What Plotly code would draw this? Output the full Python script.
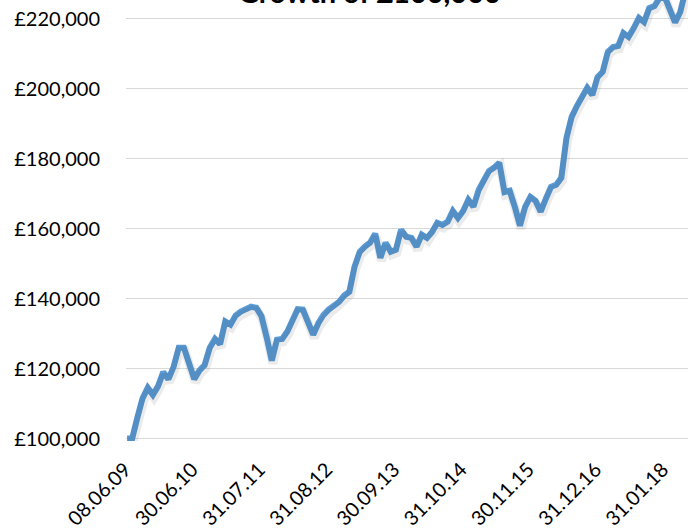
import pandas as pd
import plotly.graph_objects as go

# ---- data (in £ thousands) ----
start_label = "08.06.09"
month_ends = pd.date_range("2009-06-30", "2018-05-31", freq="ME")
dates = [start_label] + [d.strftime("%d.%m.%y") for d in month_ends]

values_k = [
    100.0, 100.0, 106.0, 111.5, 114.5, 112.5, 115.0, 119.0, 117.0, 120.5,
    126.0, 126.0, 121.5, 117.0, 119.5, 121.0, 126.0, 128.5, 127.0, 133.5,
    132.6, 135.2, 136.3, 137.0, 137.7, 137.4, 135.0, 129.0, 122.3, 128.3,
    128.5, 130.6, 134.0, 137.0, 136.9, 133.4, 129.7, 133.0, 135.4, 136.9,
    138.0, 139.1, 140.9, 142.0, 149.1, 153.4, 154.9, 156.0, 158.6, 151.7,
    156.0, 153.4, 154.0, 159.7, 157.7, 157.4, 154.9, 158.3, 157.4, 159.1,
    161.7, 161.1, 162.0, 165.1, 163.1, 165.1, 168.3, 166.3, 171.1, 174.0,
    176.5, 177.5, 178.9, 170.5, 170.9, 166.3, 160.9, 166.3, 169.1, 168.0,
    164.9, 168.6, 172.0, 172.6, 174.6, 186.0, 192.0, 195.1, 197.4, 200.3,
    198.3, 203.4, 204.9, 210.6, 212.0, 212.3, 216.0, 214.9, 217.4, 220.3,
    219.1, 223.1, 223.7, 226.0, 226.3, 222.5, 219.0, 222.0, 228.0,
]
values = [v * 1000 for v in values_k]

x_tick_labels = ["08.06.09", "30.06.10", "31.07.11", "31.08.12", "30.09.13",
                 "31.10.14", "30.11.15", "31.12.16", "31.01.18"]
y_tick_values = [100000, 120000, 140000, 160000, 180000, 200000, 220000]
y_tick_labels = ["£100,000", "£120,000", "£140,000", "£160,000",
                 "£180,000", "£200,000", "£220,000"]
title_text = "Growth of £100,000"

# ---- figure ----
BLUE = "#5B9BD5"
FONT = "Lato"
y_lo, y_hi = 99300, 225429
x_lo, x_hi = -0.2, 108.5
px_per_unit_y = 441.5 / (y_hi - y_lo)
px_per_unit_x = 562 / (x_hi - x_lo)
dy = 3.0 / px_per_unit_y
dx = 1.0 / px_per_unit_x

fig = go.Figure()
# soft shadow under the line (same data, drawn on slightly shifted overlay axes)
fig.add_trace(go.Scatter(
    x=dates, y=values, mode="lines", xaxis="x2", yaxis="y2",
    line=dict(color="rgba(0,0,0,0.08)", width=9), hoverinfo="skip",
    showlegend=False,
))
fig.add_trace(go.Scatter(
    x=dates, y=values, mode="lines",
    line=dict(color=BLUE, width=6), showlegend=False,
))

fig.update_layout(
    width=693, height=532,
    margin=dict(l=126, r=5, t=0, b=90.5),
    paper_bgcolor="white", plot_bgcolor="white",
    font=dict(family=FONT, size=20, color="#000000"),
    xaxis=dict(
        type="category", categoryorder="array", categoryarray=dates,
        range=[x_lo, x_hi], tickmode="array", tickvals=x_tick_labels,
        ticktext=x_tick_labels, tickangle=-45, showgrid=False,
        showline=False, zeroline=False, ticks="", automargin=False,
        ticklabelstandoff=12, ticklabelshift=-2,
        tickfont=dict(family=FONT, size=20, color="#000000"),
    ),
    yaxis=dict(
        range=[y_lo, y_hi], tickmode="array", tickvals=y_tick_values,
        ticktext=y_tick_labels, showgrid=True, gridcolor="#D9D9D9",
        gridwidth=1.3, zeroline=False, showline=False, ticks="",
        ticklabelstandoff=25, automargin=False,
        tickfont=dict(family=FONT, size=20, color="#000000"),
    ),
    xaxis2=dict(
        type="category", categoryorder="array", categoryarray=dates,
        range=[x_lo - dx, x_hi - dx], overlaying="x", visible=False,
    ),
    yaxis2=dict(
        range=[y_lo + dy, y_hi + dy], overlaying="y", visible=False,
    ),
    annotations=[dict(
        text=f"<b>{title_text}</b>", xref="paper", yref="paper",
        x=0.434, y=1, xanchor="center", yanchor="bottom", yshift=-11,
        showarrow=False, font=dict(family=FONT, size=29, color="#000000"),
    )],
)

fig.write_html("out.html", config={"displayModeBar": False},
               post_script="document.body.style.margin='0';")
